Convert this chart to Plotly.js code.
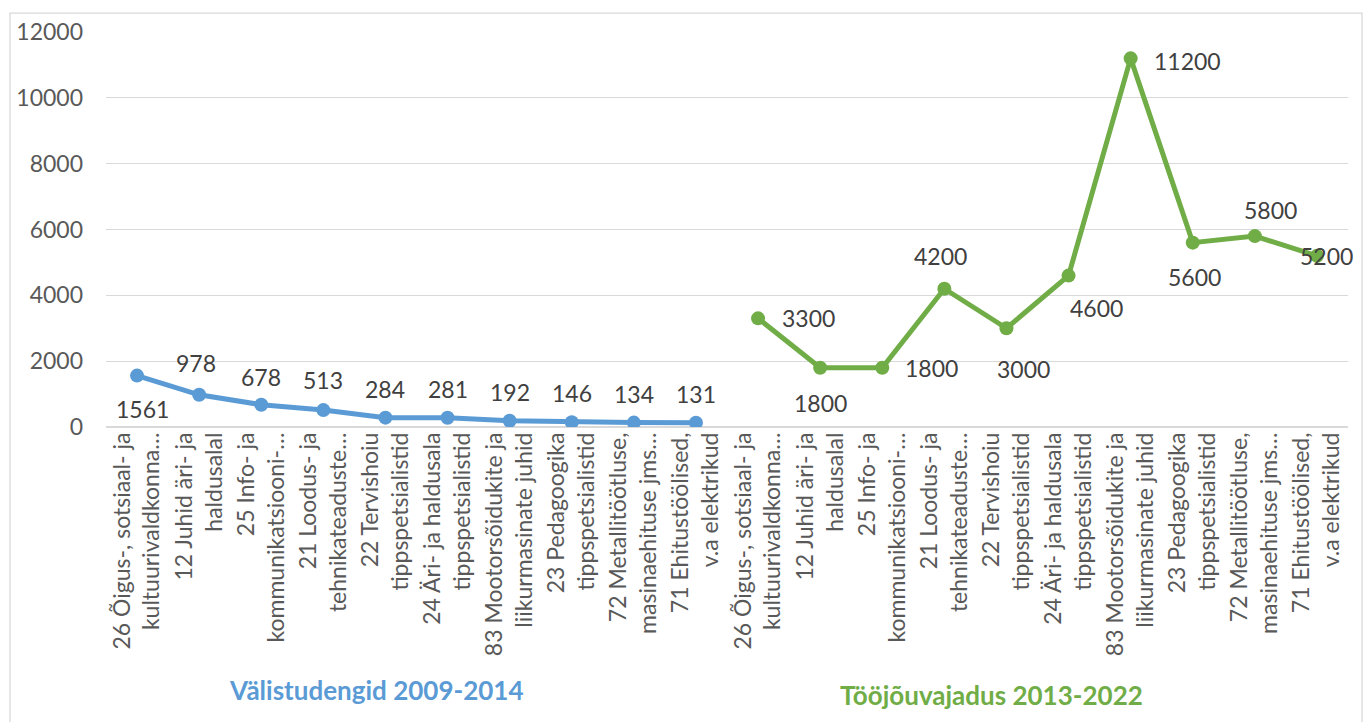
<!DOCTYPE html>
<html>
<head>
<meta charset="utf-8">
<script src="https://cdn.plot.ly/plotly-3.0.1.min.js"></script>
<style>
  html, body { margin: 0; padding: 0; background: #ffffff; }
  #chart { width: 1365px; height: 722px; }
</style>
</head>
<body>
<div id="chart"></div>
<script>
// ---- Data ----
const categories = [
  "26 Õigus-, sotsiaal- ja<br>kultuurivaldkonna…",
  "12 Juhid äri- ja<br>haldusalal",
  "25 Info- ja<br>kommunikatsiooni-…",
  "21 Loodus- ja<br>tehnikateaduste…",
  "22 Tervishoiu<br>tippspetsialistid",
  "24 Äri- ja haldusala<br>tippspetsialistid",
  "83 Mootorsõidukite ja<br>liikurmasinate juhid",
  "23 Pedagoogika<br>tippspetsialistid",
  "72 Metallitöötluse,<br>masinaehituse jms…",
  "71 Ehitustöölised,<br>v.a elektrikud"
];
const studentValues = [1561, 978, 678, 513, 284, 281, 192, 146, 134, 131];
const demandValues = [3300, 1800, 1800, 4200, 3000, 4600, 11200, 5600, 5800, 5200];
const groupTitles = ["Välistudengid 2009-2014", "Tööjõuvajadus 2013-2022"];
const yTicks = [0, 2000, 4000, 6000, 8000, 10000, 12000];
const yTickText = ["0", "2000", "4000", "6000", "8000", "10000", "12000"];

// ---- Styles ----
const blue = "#5b9bd5";
const green = "#70ad47";
const labelColor = "#404040";
const tickColor = "#595959";
const gridColor = "#d9d9d9";
const fontFamily = "Lato, 'Open Sans', sans-serif";
// label offsets in pixels [dx, dy] (dy positive = up)
const studentLabelShift = [[5,-33],[-3,32],[0,28],[0,30],[0,29],[0,29],[0,29],[0,29],[0,29],[0,29]];
const demandLabelShift = [[50,0],[0,-35],[49,0],[-4,33],[17,-41],[28,-32],[57,-3],[2,-34],[16,26],[10,0]];

const n = categories.length;
const xStudents = categories.map((c, i) => i);
const xDemand = categories.map((c, i) => i + n);
const allTicks = xStudents.concat(xDemand);
const allTickText = categories.concat(categories);

const traces = [
  {
    x: xStudents, y: studentValues, type: "scatter", mode: "lines+markers",
    line: { color: blue, width: 5 },
    marker: { color: blue, size: 14 },
    hoverinfo: "y", showlegend: false
  },
  {
    x: xDemand, y: demandValues, type: "scatter", mode: "lines+markers",
    line: { color: green, width: 5 },
    marker: { color: green, size: 14 },
    hoverinfo: "y", showlegend: false
  }
];

const annotations = [];
studentValues.forEach((v, i) => {
  annotations.push({
    x: xStudents[i], y: v, xref: "x", yref: "y", text: String(v), showarrow: false,
    xshift: studentLabelShift[i][0], yshift: studentLabelShift[i][1],
    font: { family: fontFamily, size: 23, color: labelColor }
  });
});
demandValues.forEach((v, i) => {
  annotations.push({
    x: xDemand[i], y: v, xref: "x", yref: "y", text: String(v), showarrow: false,
    xshift: demandLabelShift[i][0], yshift: demandLabelShift[i][1],
    font: { family: fontFamily, size: 23, color: labelColor }
  });
});
annotations.push({
  x: 0.2174, y: -0.666, xref: "paper", yref: "paper", text: "<b>" + groupTitles[0] + "</b>",
  showarrow: false, xanchor: "center", yanchor: "middle",
  font: { family: fontFamily, size: 26, color: blue }
});
annotations.push({
  x: 0.7126, y: -0.678, xref: "paper", yref: "paper", text: "<b>" + groupTitles[1] + "</b>",
  showarrow: false, xanchor: "center", yanchor: "middle",
  font: { family: fontFamily, size: 26, color: green }
});

const layout = {
  width: 1365, height: 722,
  margin: { l: 106, r: 17, t: 32, b: 295 },
  paper_bgcolor: "#ffffff", plot_bgcolor: "#ffffff",
  font: { family: fontFamily, size: 23, color: tickColor },
  xaxis: {
    range: [-0.5, 2 * n - 0.5],
    tickmode: "array", tickvals: allTicks, ticktext: allTickText,
    tickangle: -90, ticks: "", showgrid: false, zeroline: false,
    showline: false, fixedrange: true,
    tickfont: { family: fontFamily, size: 23, color: tickColor }
  },
  yaxis: {
    range: [0, 12000], tickmode: "array", tickvals: yTicks, ticktext: yTickText,
    showgrid: true, gridcolor: gridColor, gridwidth: 1.3,
    zeroline: true, zerolinecolor: gridColor, zerolinewidth: 1.3,
    showline: false, ticks: "", ticklabelstandoff: 22, fixedrange: true,
    tickfont: { family: fontFamily, size: 23, color: tickColor }
  },
  shapes: [{
    type: "rect", xref: "paper", yref: "paper",
    x0: -0.0773, x1: 1.0113, y0: -0.76, y1: 1.048,
    line: { color: gridColor, width: 1.3 }, fillcolor: "rgba(0,0,0,0)", layer: "below"
  }],
  annotations: annotations
};

Plotly.newPlot("chart", traces, layout, { displayModeBar: false, staticPlot: true });
</script>
</body>
</html>
